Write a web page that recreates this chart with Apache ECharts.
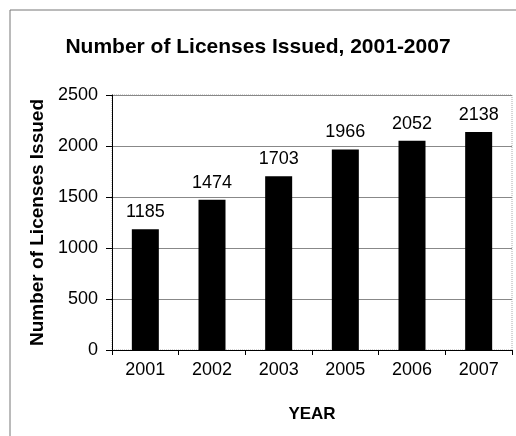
<!DOCTYPE html>
<html>
<head>
<meta charset="utf-8">
<script src="https://cdn.jsdelivr.net/npm/echarts@6/dist/echarts.min.js"></script>
<style>
  html, body { margin: 0; padding: 0; background: #fff; }
  #chart { width: 516px; height: 436px; }
</style>
</head>
<body>
<div id="chart"></div>
<script>
  // 数据
  const years = ['2001', '2002', '2003', '2005', '2006', '2007']
  const licenses = [1185, 1474, 1703, 1966, 2052, 2138]
  const yTicks = [0, 500, 1000, 1500, 2000, 2500]

  const font = 'Liberation Sans, Arial, sans-serif'
  const chart = echarts.init(document.getElementById('chart'))

  chart.setOption({
    animation: false,
    backgroundColor: '#fff',
    textStyle: { fontFamily: font },
    title: {
      text: 'Number of Licenses Issued, 2001-2007',
      left: 'center',
      top: 32,
      textStyle: { fontFamily: font, fontSize: 21, fontWeight: 'bold', color: '#000' }
    },
    graphic: [{
      type: 'polyline',
      shape: { points: [[10, 440], [10, 10], [520, 10]] },
      style: { stroke: '#777', lineWidth: 1, fill: null },
      silent: true
    }],
    grid: {
      left: 112, top: 95, right: 4, bottom: 86,
      show: true,
      borderColor: '#aaa',
      borderType: 'dotted',
      borderWidth: 1
    },
    xAxis: {
      type: 'category',
      data: years,
      name: 'YEAR',
      nameLocation: 'middle',
      nameGap: 56,
      nameTextStyle: { fontFamily: font, fontSize: 17, fontWeight: 'bold', color: '#000' },
      axisLine: { lineStyle: { color: '#000', width: 1 } },
      axisTick: { show: true, length: 5, lineStyle: { color: '#000' } },
      axisLabel: { fontFamily: font, fontSize: 18, color: '#000', margin: 11 }
    },
    yAxis: {
      type: 'value',
      min: yTicks[0],
      max: yTicks[yTicks.length - 1],
      interval: yTicks[1] - yTicks[0],
      name: 'Number of Licenses Issued',
      nameLocation: 'middle',
      nameGap: 63,
      nameRotate: 90,
      nameTextStyle: { fontFamily: font, fontSize: 19, fontWeight: 'bold', color: '#000' },
      axisLine: { show: true, lineStyle: { color: '#000', width: 1 } },
      axisTick: { show: true, length: 6, lineStyle: { color: '#000' } },
      axisLabel: { fontFamily: font, fontSize: 18, color: '#000', margin: 14, formatter: v => String(v) },
      splitLine: { show: true, lineStyle: { color: '#888', width: 1 } }
    },
    series: [{
      type: 'bar',
      data: licenses,
      barWidth: 27,
      itemStyle: { color: '#000' },
      label: {
        show: true,
        position: 'top',
        distance: 8,
        fontFamily: font,
        fontSize: 18,
        color: '#000'
      }
    }]
  })
</script>
</body>
</html>
